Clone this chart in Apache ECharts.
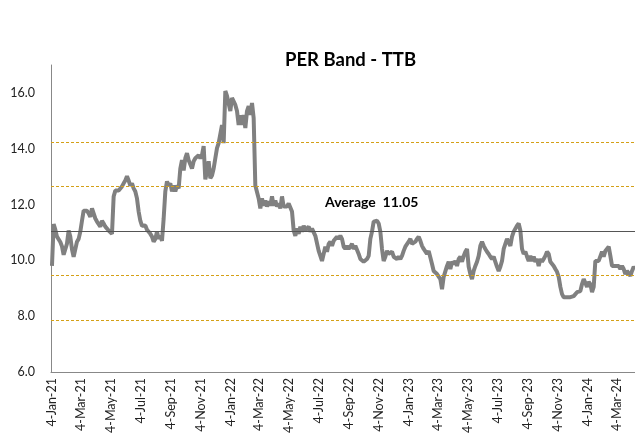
<!DOCTYPE html>
<html>
<head>
<meta charset="utf-8">
<title>PER Band - TTB</title>
<script src="https://cdn.jsdelivr.net/npm/echarts@6/dist/echarts.min.js"></script>
<style>
  html, body { margin: 0; padding: 0; background: #fff; }
  #chart { width: 635px; height: 436px; }
</style>
</head>
<body>
<div id="chart"></div>
<script>
// x-axis tick labels (every two months) and the dates they sit on
const tickLabels = [
  '4-Jan-21', '4-Mar-21', '4-May-21', '4-Jul-21', '4-Sep-21', '4-Nov-21',
  '4-Jan-22', '4-Mar-22', '4-May-22', '4-Jul-22', '4-Sep-22', '4-Nov-22',
  '4-Jan-23', '4-Mar-23', '4-May-23', '4-Jul-23', '4-Sep-23', '4-Nov-23',
  '4-Jan-24', '4-Mar-24'
]
const tickDates = [
  '2021-01-04', '2021-03-04', '2021-05-04', '2021-07-04', '2021-09-04', '2021-11-04',
  '2022-01-04', '2022-03-04', '2022-05-04', '2022-07-04', '2022-09-04', '2022-11-04',
  '2023-01-04', '2023-03-04', '2023-05-04', '2023-07-04', '2023-09-04', '2023-11-04',
  '2024-01-04', '2024-03-04'
]

// PER readings, sampled roughly every 3.4 days from the first date
const firstSampleDate = '2021-01-04'
const sampleStepDays = 3.407
const perValues = [
  9.8, 11.3, 11.1, 10.85, 10.9, 10.66, 10.5, 10.2, 10.13, 10.6, 11.07, 10.85, 10.4, 10.13,
  10.16, 10.67, 10.77, 11.03, 11.42, 11.78, 11.75, 11.78, 11.68, 11.56, 11.86, 11.68, 11.5,
  11.39, 11.42, 11.21, 11.42, 11.32, 11.21, 11.14, 11.07, 11.07, 10.95, 12.29, 12.5, 12.47,
  12.5, 12.5, 12.65, 12.76, 12.86, 13.01, 12.86, 12.68, 12.76, 12.58, 12.47, 12.22, 11.75,
  11.42, 11.24, 11.21,
  11.25, 11.1, 11.03, 10.95, 10.85, 10.67, 10.77, 11.03, 10.77, 10.88, 10.7, 11.5, 12.47,
  12.83, 12.68, 12.76, 12.47, 12.68, 12.47, 12.68, 12.58, 13.29, 13.59, 13.22, 13.66, 13.84,
  13.59, 13.66, 13.29, 13.55, 13.66, 13.73, 13.77, 13.66, 13.77, 14.09, 12.9, 13.19, 13.55,
  12.94, 13.04, 13.29, 13.66, 14.02, 14.2, 14.2, 14.85, 14.2, 16.07, 15.89, 15.93, 15.35,
  15.82, 15.82, 15.57, 15.35, 14.85,
  15.2, 14.85, 15.21, 14.74, 15.35, 15.53, 15.21, 15.64, 15.1, 12.68, 12.65, 12.22, 11.86,
  12.22, 11.96, 12.14, 11.93, 12.11, 11.96, 12.29, 11.96, 12.14, 11.93, 12.04, 11.86, 12.29,
  11.93, 11.93, 11.93, 12.04, 12.11, 11.75, 11.07, 10.88, 11.14, 10.95, 11.21, 11.03, 11.24,
  11.07, 11.14, 11.21, 11.03, 11.14, 11.07, 10.88, 10.88, 10.34, 10.31, 9.98, 10.05, 10.49,
  10.31, 10.59, 10.67, 10.52, 10.7,
  10.7, 10.85, 10.77, 10.88, 10.77, 10.49, 10.41, 10.52, 10.41, 10.49, 10.59, 10.41, 10.52,
  10.49, 10.23, 10.05, 9.98, 9.95, 9.98, 10.05, 10.16, 10.77, 11.03, 11.39, 11.32, 11.42,
  11.32, 11.03, 10.41, 9.98, 10.13, 10.34, 10.23, 10.16, 10.31, 10.13, 10.16, 10.05, 10.13,
  10.05, 10.16, 10.34, 10.49, 10.52, 10.67, 10.77, 10.59, 10.52, 10.67, 10.77, 10.85, 10.7,
  10.52, 10.41, 10.34, 10.23, 10.34,
  10.3, 9.87, 9.62, 9.59, 9.51, 9.51, 9.33, 8.97, 9.41, 9.44, 9.8, 9.95, 9.69, 9.95, 9.87,
  9.98, 9.8, 10.05, 10.13, 9.95, 10.16, 10.31, 10.41, 9.77, 9.51, 9.33, 9.62, 9.8, 9.95,
  10.16, 10.52, 10.67, 10.52, 10.41, 10.31, 10.23, 10.13, 10.05, 10.13, 9.95, 9.77, 9.62,
  9.77, 9.98, 10.41, 10.59, 10.77, 10.7, 10.52, 10.85, 11.03, 11.07, 11.24, 11.32, 11.07,
  10.41, 10.23,
  10.31, 10.13, 9.98, 10.16, 9.98, 10.13, 9.95, 10.05, 9.8, 10.05, 9.95, 10.05, 10.16, 10.31,
  10.23, 9.95, 9.95, 9.8, 9.69, 9.59, 9.41, 9.05, 8.79, 8.68, 8.61, 8.68, 8.61, 8.68, 8.68,
  8.72, 8.72, 8.86, 8.9, 8.9, 9.15, 9.33, 9.26, 9.05, 9.23, 9.15, 8.86, 9.05, 9.98, 10.05,
  9.98, 9.98, 10.31, 10.13, 10.34, 10.41, 10.49, 10.16, 9.8, 9.87, 9.8, 9.77, 9.8, 9.69,
  9.8, 9.69, 9.51, 9.62, 9.59, 9.44, 9.62, 9.77, 9.69
]

// average and +/- 1 SD, 2 SD bands
const averagePer = 11.05
const bandLevels = [14.23, 12.64, 9.46, 7.87]

const DAY = 24 * 3600 * 1000
const t0 = Date.parse(firstSampleDate)
const tickTimes = tickDates.map(d => Date.parse(d))
const lineData = perValues.map((v, i) => [t0 + i * sampleStepDays * DAY, v])

const chart = echarts.init(document.getElementById('chart'))

chart.setOption({
  animation: false,
  title: {
    text: 'PER Band - TTB',
    left: 280,
    top: 46,
    textStyle: {
      fontFamily: 'Lato',
      fontWeight: 'bold',
      fontSize: 18.5,
      color: '#000'
    }
  },
  grid: {
    left: 51,
    right: 0,
    top: 65,
    bottom: 64,
    outerBoundsMode: 'none'
  },
  xAxis: {
    type: 'value',
    scale: true,
    min: t0 - 2 * DAY,
    max: t0 + 1191.7 * DAY,
    axisLine: { lineStyle: { color: '#888', width: 1 } },
    axisTick: { show: false },
    splitLine: { show: false },
    axisLabel: {
      customValues: tickTimes,
      rotate: 90,
      margin: 6,
      fontFamily: 'Lato',
      fontSize: 12.5,
      color: '#222',
      hideOverlap: false,
      formatter: (val) => {
        let best = 0
        tickTimes.forEach((t, i) => {
          if (Math.abs(t - val) < Math.abs(tickTimes[best] - val)) best = i
        })
        return tickLabels[best]
      }
    }
  },
  yAxis: {
    type: 'value',
    min: 6,
    max: 17,
    interval: 2,
    axisLine: { show: true, lineStyle: { color: '#888', width: 1 } },
    axisTick: { show: false },
    splitLine: { show: false },
    axisLabel: {
      showMaxLabel: false,
      margin: 16,
      fontFamily: 'Lato',
      fontSize: 12.5,
      color: '#222',
      formatter: v => v.toFixed(1)
    }
  },
  graphic: [
    {
      type: 'text',
      left: 325,
      top: 195,
      style: {
        text: 'Average  11.05',
        font: 'bold 14px Lato',
        fill: '#000'
      }
    }
  ],
  series: [
    {
      name: 'PER',
      type: 'line',
      data: lineData,
      showSymbol: false,
      lineStyle: { color: '#808080', width: 4 },
      itemStyle: { color: '#808080' },
      markLine: {
        silent: true,
        symbol: 'none',
        label: { show: false },
        data: [
          ...bandLevels.map(v => ({
            yAxis: v,
            lineStyle: { color: '#D4A017', type: [3, 2], width: 1.2 }
          })),
          { yAxis: averagePer, lineStyle: { color: '#555', type: 'solid', width: 1 } }
        ]
      }
    }
  ]
})
</script>
</body>
</html>
